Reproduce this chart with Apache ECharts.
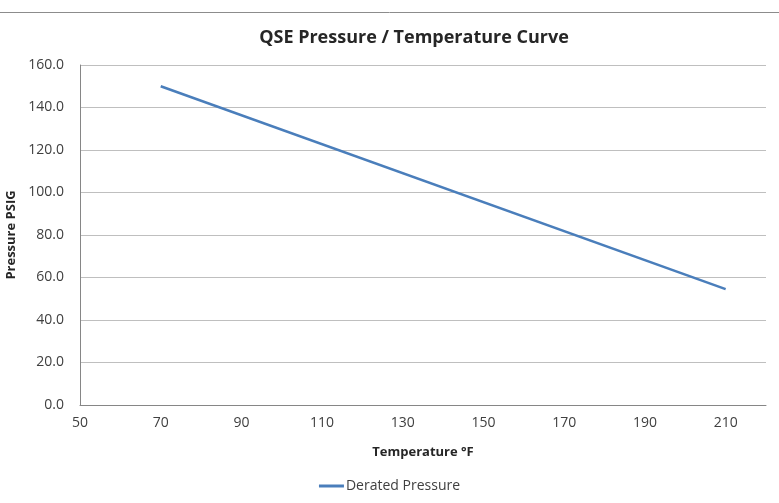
<!DOCTYPE html>
<html>
<head>
<meta charset="utf-8">
<script src="https://cdn.jsdelivr.net/npm/echarts@6/dist/echarts.min.js"></script>
<style>
  html, body { margin: 0; padding: 0; background: #fff; }
  #chart { width: 779px; height: 503px; }
</style>
</head>
<body>
<div id="chart"></div>
<script>
// data
const temperatures = [70, 210];
const pressures = [150.0, 54.5];
const seriesName = 'Derated Pressure';

const font = 'Open Sans, Noto Sans, sans-serif';

const chart = echarts.init(document.getElementById('chart'));
chart.setOption({
  animation: false,
  backgroundColor: '#fff',
  textStyle: { fontFamily: font },
  title: {
    text: 'QSE Pressure / Temperature Curve',
    left: 409,
    top: 24,
    textAlign: 'center',
    textStyle: { fontSize: 18, fontWeight: 'bold', color: '#262626', fontFamily: font }
  },
  graphic: [{
    type: 'line',
    shape: { x1: 0, y1: 12.5, x2: 779, y2: 12.5 },
    style: { stroke: '#8c8c8c', lineWidth: 1 }
  }],
  legend: {
    bottom: 5,
    left: 'center',
    itemWidth: 25,
    itemHeight: 3,
    itemGap: 2,
    icon: 'rect',
    textStyle: { fontSize: 14, color: '#404040', fontFamily: font, padding: [0, 0, 0, -3] },
    data: [seriesName]
  },
  grid: { left: 80, right: 13, top: 65, bottom: 98, containLabel: false, outerBoundsMode: 'none' },
  xAxis: {
    type: 'value',
    min: 50,
    max: 220,
    interval: 20,
    name: 'Temperature °F',
    nameLocation: 'middle',
    nameGap: 41,
    nameTextStyle: { fontSize: 13, fontWeight: 'bold', color: '#262626', fontFamily: font },
    axisLine: { show: true, lineStyle: { color: '#868686', width: 1 } },
    axisTick: { show: false },
    splitLine: { show: false },
    axisLabel: {
      fontSize: 14, color: '#404040', margin: 11,
      formatter: v => (v > 210 ? '' : String(v))
    }
  },
  yAxis: {
    type: 'value',
    min: 0,
    max: 160,
    interval: 20,
    name: 'Pressure PSIG',
    nameLocation: 'middle',
    nameRotate: 90,
    nameGap: 59,
    nameTextStyle: { fontSize: 13, fontWeight: 'bold', color: '#262626', fontFamily: font },
    axisLine: { show: true, lineStyle: { color: '#868686', width: 1 } },
    axisTick: { show: false },
    splitLine: { show: true, lineStyle: { color: '#bfbfbf', width: 1 } },
    axisLabel: { fontSize: 14, color: '#404040', margin: 16, formatter: v => v.toFixed(1) }
  },
  series: [{
    name: seriesName,
    type: 'line',
    data: temperatures.map((t, i) => [t, pressures[i]]),
    showSymbol: false,
    symbol: 'none',
    lineStyle: { color: '#4a7ebb', width: 2.5 },
    itemStyle: { color: '#4a7ebb' }
  }]
});
</script>
</body>
</html>
